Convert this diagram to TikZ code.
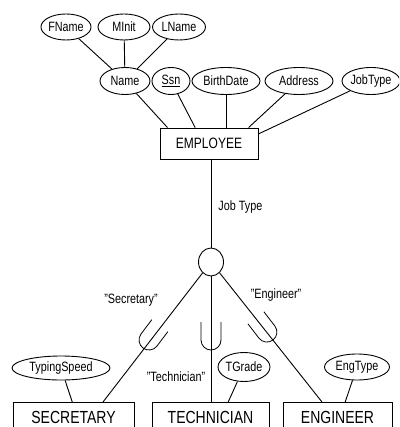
\documentclass[tikz,border=0pt]{standalone}
\usepackage{fontspec}
\setmainfont[FakeStretch=0.8]{Liberation Sans}
\usetikzlibrary{shapes.geometric,calc}
\begin{document}
\begin{tikzpicture}[x=1pt,y=1pt,
  line width=0.9pt,
  attr/.style={ellipse,draw,inner sep=0pt,font=\fontsize{13.5}{14}\selectfont},
  ent/.style={rectangle,draw,inner sep=0pt,font=\fontsize{15}{16}\selectfont},
  subent/.style={rectangle,draw,inner sep=0pt,font=\fontsize{17.5}{18}\selectfont,
    minimum height=31,anchor=north},
  lbl/.style={font=\fontsize{13.5}{14}\selectfont,inner sep=0pt},
  subsetU/.style={line width=0.8pt}]
\useasboundingbox (0,0) rectangle (399,-427);
\clip (0,0) rectangle (399,-427);

% composite attribute parts
\node[attr,minimum width=47,minimum height=26] (fname) at (66,-27) {FName};
\node[attr,minimum width=52,minimum height=26] (minit) at (124,-27) {MInit};
\node[attr,minimum width=53,minimum height=26] (lname) at (179,-27) {LName};

% EMPLOYEE attributes
\node[attr,minimum width=50,minimum height=27] (name) at (125,-81) {Name};
\node[attr,minimum width=38,minimum height=27] (ssn) at (171,-81) {\underline{Ssn}};
\node[attr,minimum width=68,minimum height=27] (bdate) at (226,-81) {BirthDate};
\node[attr,minimum width=68,minimum height=27] (addr) at (299,-81) {Address};
\node[attr,minimum width=58,minimum height=27] (jtype) at (371,-81) {JobType};

\node[ent,minimum width=98,minimum height=31] (emp) at (209,-143.5) {EMPLOYEE};

\draw (name) -- (fname);
\draw (name) -- (minit);
\draw (name) -- (lname);
\draw (name) -- ($(emp.north west)!0.08!(emp.north east)$);
\draw (ssn) -- ($(emp.north west)!0.36!(emp.north east)$);
\draw (bdate.south) -- (bdate.south |- emp.north);
\draw (addr) -- ($(emp.north west)!0.9!(emp.north east)$);
\draw (jtype) -- ($(emp.north east)!0.2!(emp.south east)$);

% specialization circle
\node[ellipse,draw,minimum width=25,minimum height=28,inner sep=0pt] (d) at (211,-262) {};
\draw (emp.south -| d) -- (d);
\node[lbl,anchor=west] (jtl) at (218,-207) {Job Type};

% subclasses
\node[subent,minimum width=121] (sec) at (73.5,-402) {SECRETARY};
\node[subent,minimum width=117] (tech) at (210.5,-402) {TECHNICIAN};
\node[subent,minimum width=109] (eng) at (337.5,-402) {ENGINEER};

\coordinate (secT) at (103,-402);
\coordinate (engT) at (322,-402);
\draw (d) -- (secT);
\draw (d.south) -- (d.south |- tech.north);
\draw (d) -- (engT);

% subset symbols, each opening toward the circle
\draw[subsetU,shift={(211,-350)}] (-10,28) -- (-10,10) arc (180:360:10) -- (10,28);
\draw[subsetU,shift={(143,-348)},rotate=-37] (-10,28) -- (-10,10) arc (180:360:10) -- (10,28);
\draw[subsetU,shift={(273,-340)},rotate=37.6] (-10,28) -- (-10,10) arc (180:360:10) -- (10,28);

\node[lbl] (lsec) at (131,-300) {"Secretary"};
\node[lbl] (ltech) at (176,-377) {"Technician"};
\node[lbl] (leng) at (276,-295) {"Engineer"};

% subclass attributes
\node[attr,minimum width=98,minimum height=24] (tspeed) at (61,-368) {TypingSpeed};
\node[attr,minimum width=52,minimum height=29] (tgrade) at (244,-367) {TGrade};
\node[attr,minimum width=65,minimum height=26] (etype) at (357,-367) {EngType};

\draw (tspeed) -- ($(sec.north west)!0.49!(sec.north east)$);
\draw (tgrade) -- ($(tech.north west)!0.65!(tech.north east)$);
\draw (etype) -- ($(eng.north west)!0.57!(eng.north east)$);
\end{tikzpicture}
\end{document}
